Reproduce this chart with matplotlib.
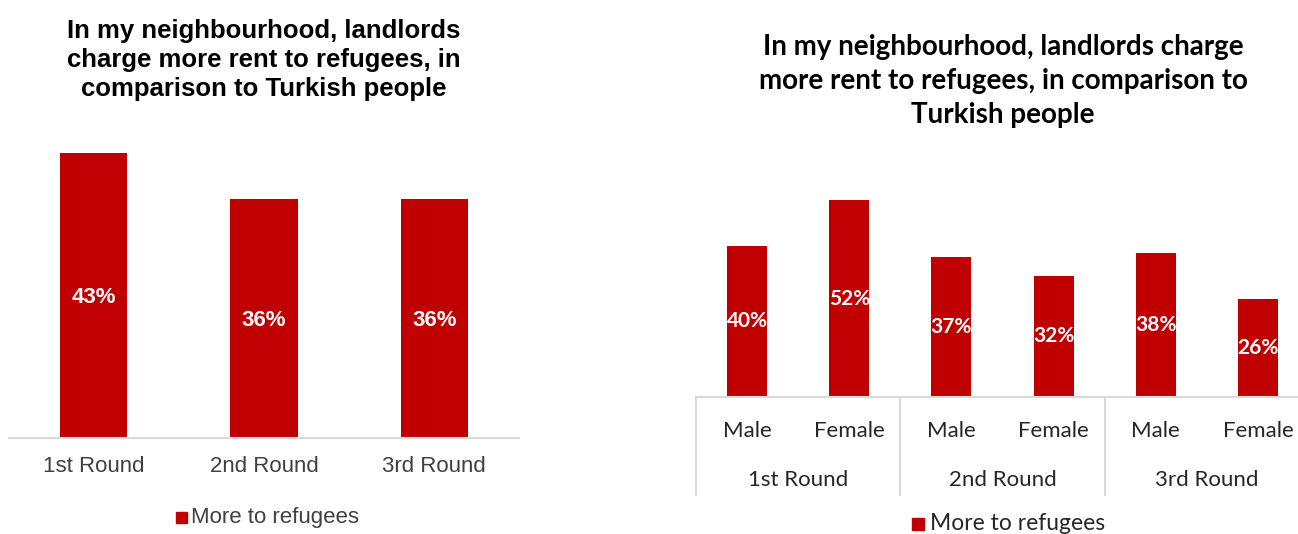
import matplotlib
matplotlib.use("Agg")
import matplotlib.pyplot as plt
from matplotlib.patches import Rectangle
from matplotlib.lines import Line2D

# Data
rounds = ["1st Round", "2nd Round", "3rd Round"]
overall = [43, 36, 36]
genders = ["Male", "Female"]
by_gender = [40, 52, 37, 32, 38, 26]
series_name = "More to refugees"

RED = "#C00000"
GRID = "#D9D9D9"
W, H, DPI = 1298, 534, 100

fig = plt.figure(figsize=(W / DPI, H / DPI), dpi=DPI)
fig.patch.set_facecolor("white")


def box(x0, y_top, x1, y_bot):
    """Pixel box (from top-left) -> figure fraction rect."""
    return [x0 / W, 1 - y_bot / H, (x1 - x0) / W, (y_bot - y_top) / H]


def fx(x):
    return x / W


def fy(y):
    return 1 - y / H


# ---------- Left chart: by round ----------
ax1 = fig.add_axes(box(8.5, 107.5, 519.5, 437.5))
ax1.bar(range(len(rounds)), overall, width=0.395, color=RED)
ax1.set_xlim(-0.5, len(rounds) - 0.5)
ax1.set_ylim(0, 49.8)
for s in ["top", "right", "left"]:
    ax1.spines[s].set_visible(False)
ax1.spines["bottom"].set_color(GRID)
ax1.spines["bottom"].set_linewidth(1.5)
ax1.set_yticks([])
ax1.set_xticks(range(len(rounds)))
ax1.set_xticklabels(rounds, family="Liberation Sans", fontsize=16, color="#404040")
ax1.tick_params(axis="x", length=0, pad=13)
for i, v in enumerate(overall):
    ax1.text(i, v / 2 - 0.3, f"{v}%", ha="center", va="center", color="white",
             fontsize=16, fontweight="bold", family="Liberation Sans")

fig.text(fx(264), fy(60), "In my neighbourhood, landlords\ncharge more rent to refugees, in\ncomparison to Turkish people",
         ha="center", va="center", fontsize=18.5, fontweight="bold",
         family="Liberation Sans", linespacing=1.25, color="black")

# legend for left chart
fig.patches.append(Rectangle((fx(176), fy(523)), 11 / W, 11 / H, transform=fig.transFigure,
                             color=RED, figure=fig))
fig.text(fx(191), fy(517), series_name, ha="left", va="center", fontsize=16,
         family="Liberation Sans", color="#404040")

# ---------- Right chart: by round and gender ----------
ax2 = fig.add_axes(box(696, 189, 1309, 397))
n = len(by_gender)
ax2.bar(range(n), by_gender, width=0.39, color=RED)
ax2.set_xlim(-0.5, n - 0.5)
ax2.set_ylim(0, 55)
for s in ["top", "right", "left"]:
    ax2.spines[s].set_visible(False)
ax2.spines["bottom"].set_color(GRID)
ax2.spines["bottom"].set_linewidth(1.5)
ax2.set_yticks([])
ax2.set_xticks([])
for i, v in enumerate(by_gender):
    ax2.text(i, v / 2, f"{v}%", ha="center", va="center", color="white",
             fontsize=15, fontweight="bold", family="Lato")

ax_h = 397 - 189
xt = ax2.get_xaxis_transform()
for i in range(n):
    ax2.text(i, -(431 - 397) / ax_h, genders[i % 2], transform=xt, ha="center", va="center",
             fontsize=16, family="Lato", color="#262626", clip_on=False)
for g, r in enumerate(rounds):
    ax2.text(2 * g + 0.5, -(480 - 397) / ax_h, r, transform=xt, ha="center", va="center",
             fontsize=16, family="Lato", color="#262626", clip_on=False)
for g in range(len(rounds)):
    ax2.add_line(Line2D([2 * g - 0.5, 2 * g - 0.5], [0, -(495 - 397) / ax_h], transform=xt,
                        color=GRID, linewidth=1.5, clip_on=False))

fig.text(fx(1003), fy(81), "In my neighbourhood, landlords charge\nmore rent to refugees, in comparison to\nTurkish people",
         ha="center", va="center", fontsize=20, fontweight="bold",
         family="Lato", linespacing=1.4, color="black")

fig.patches.append(Rectangle((fx(912), fy(530)), 12 / W, 12 / H, transform=fig.transFigure,
                             color=RED, figure=fig))
fig.text(fx(930), fy(523), series_name, ha="left", va="center", fontsize=16.5,
         family="Lato", color="#262626")

fig.savefig("out.png", dpi=DPI, facecolor="white")
